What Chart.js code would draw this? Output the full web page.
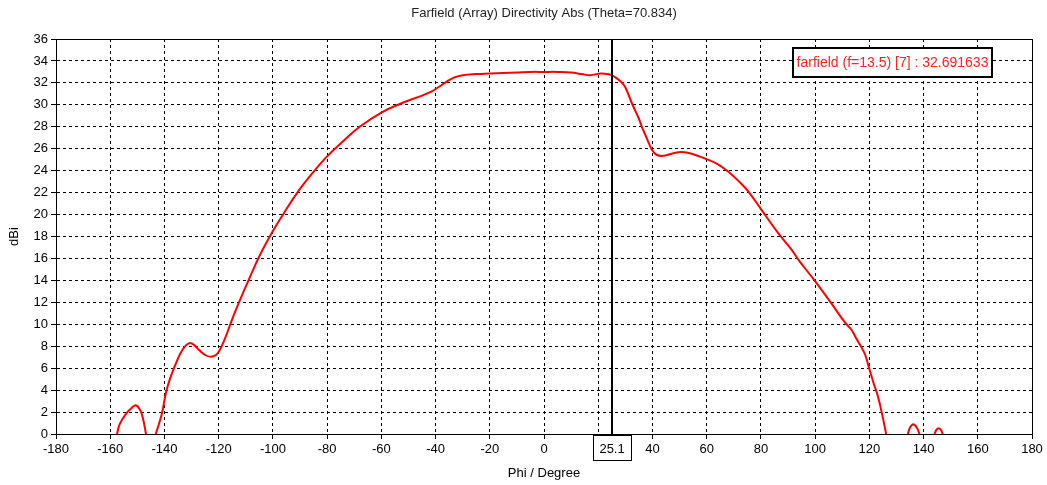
<!DOCTYPE html>
<html>
<head>
<meta charset="utf-8">
<script src="https://cdn.jsdelivr.net/npm/chart.js@4.4.1/dist/chart.umd.min.js"></script>
<style>
  html, body { margin: 0; padding: 0; background: #ffffff; }
  #wrap { width: 1047px; height: 485px; }
</style>
</head>
<body>
<div id="wrap"><canvas id="c" width="1047" height="485"></canvas></div>
<script>
// ---- data (null = gap where curve is below 0 dBi) ----
const phi = [
  -157.5, -156.5, -154, -152, -150.5, -149, -148, -146.8,
  null,
  -143.2, -141, -139.5, -138, -136, -134, -132, -130.5, -129, -127, -125, -123, -121, -119.5, -118, -116, -114, -112,
  -109, -105, -100, -96, -91, -85, -80, -74, -68, -60, -53, -46, -42, -39, -36, -33, -30, -25, -20, -15, -10, -5, 0,
  5, 10, 14, 17, 21, 25.1, 28.8, 30, 32.5, 34.9, 36.1, 38, 39.8, 41.5, 44, 47, 50.8, 55, 59.4, 64, 68, 72, 75.4,
  80.3, 86.4, 91.3, 93.8, 99.9, 106, 110.9, 113.4, 115.2, 117, 118.5, 120.1, 121.5, 123.2, 124.8, 126.2,
  null,
  134.2, 135, 136.2, 137.5, 138.5,
  null,
  144, 144.8, 145.5, 146.3, 147.1
];
const dbi = [
  0, 0.9, 1.9, 2.4, 2.62, 2.2, 1.5, 0,
  null,
  0, 1.8, 3.7, 5.0, 6.3, 7.4, 8.1, 8.3, 8.1, 7.6, 7.2, 7.05, 7.2, 7.7, 8.5, 9.8, 11.1, 12.3,
  14.0, 16.2, 18.5, 20.1, 22.0, 23.9, 25.3, 26.7, 28.0, 29.3, 30.1, 30.75, 31.15, 31.6, 32.1, 32.5, 32.7, 32.8, 32.85, 32.9, 32.95, 33.0, 33.0,
  33.0, 32.95, 32.8, 32.7, 32.85, 32.69, 32.0, 31.6, 30.1, 28.8, 28.0, 26.9, 25.9, 25.45, 25.35, 25.55, 25.7, 25.5, 25.1, 24.6, 23.9, 23.0, 22.1,
  20.4, 18.3, 16.8, 15.9, 13.95, 11.9, 10.2, 9.5, 8.7, 7.95, 7.2, 5.85, 4.7, 3.4, 1.7, 0,
  null,
  0, 0.6, 0.9, 0.6, 0,
  null,
  0, 0.4, 0.52, 0.4, 0
];
const xTickMin = -180, xTickMax = 180, xTickStep = 20;
const yTickMin = 0, yTickMax = 36, yTickStep = 2;
const markerPhi = 25.1;
const markerLabel = "25.1";
const hiddenXTick = 20;
const titleText = "Farfield (Array) Directivity Abs (Theta=70.834)";
const legendText = "farfield (f=13.5) [7] : 32.691633";
const xTitle = "Phi / Degree";
const yTitle = "dBi";

const points = phi.map((p, i) => (p === null ? { x: NaN, y: null } : { x: p, y: dbi[i] }));

const FONT = "'Liberation Sans', Arial, sans-serif";
const FS = 13;

const overlay = {
  id: 'overlay',
  afterDatasetsDraw(chart) {
    const { ctx, chartArea: a, scales } = chart;
    ctx.save();
    // frame
    ctx.strokeStyle = '#000';
    ctx.lineWidth = 1;
    ctx.strokeRect(Math.round(a.left) + 0.5, Math.round(a.top) + 0.5,
                   Math.round(a.right - a.left), Math.round(a.bottom - a.top));
    // marker line
    const mx = scales.x.getPixelForValue(markerPhi);
    ctx.lineWidth = 2;
    ctx.beginPath();
    ctx.moveTo(Math.round(mx), a.top);
    ctx.lineTo(Math.round(mx), a.bottom);
    ctx.stroke();
    // marker label box
    ctx.font = FS + 'px ' + FONT;
    ctx.textAlign = 'center';
    ctx.textBaseline = 'middle';
    const bw = 38, bh = 25;
    const bx = Math.round(mx - bw / 2) + 0.5, by = Math.round(a.bottom) + 1.5;
    ctx.fillStyle = '#fff';
    ctx.fillRect(bx, by, bw, bh);
    ctx.lineWidth = 1;
    ctx.strokeRect(bx, by, bw, bh);
    ctx.fillStyle = '#000';
    ctx.fillText(markerLabel, mx, by + bh / 2 + 1);
    // legend box
    ctx.font = '14px ' + FONT;
    const lx = 793, ly = 48, lh = 29, lbw = 199;
    ctx.fillStyle = '#fff';
    ctx.fillRect(lx, ly, lbw, lh);
    ctx.lineWidth = 2;
    ctx.strokeStyle = '#000';
    ctx.strokeRect(lx, ly, lbw, lh);
    ctx.fillStyle = '#ff2020';
    ctx.textAlign = 'center';
    ctx.fillText(legendText, lx + lbw / 2, ly + lh / 2 + 1);
    ctx.restore();
  }
};

new Chart(document.getElementById('c'), {
  type: 'line',
  data: {
    datasets: [{
      data: points,
      borderColor: '#ff0000',
      borderWidth: 2,
      pointRadius: 0,
      fill: false,
      spanGaps: false,
      tension: 0.4
    }]
  },
  options: {
    responsive: false,
    animation: false,
    layout: { padding: { top: 0, right: 15, bottom: 0, left: 0 } },
    plugins: {
      legend: { display: false },
      tooltip: { enabled: false },
      title: {
        display: true,
        text: titleText,
        fullSize: false,
        color: '#222',
        font: { family: FONT, size: FS, weight: 'normal' },
        padding: { top: 6, bottom: 17.4 }
      }
    },
    scales: {
      x: {
        type: 'linear',
        min: xTickMin, max: xTickMax,
        afterFit(s) { s.height = 51; },
        ticks: {
          stepSize: xTickStep,
          color: '#000',
          padding: 3,
          maxRotation: 0,
          autoSkip: false,
          font: { family: FONT, size: FS },
          callback: v => (v === hiddenXTick ? '' : String(v))
        },
        grid: {
          color: '#000',
          lineWidth: 1,
          tickLength: 5,
          tickBorderDash: []
        },
        border: { display: true, color: '#000', width: 1, dash: [3, 3] },
        title: {
          display: true, text: xTitle, color: '#000',
          font: { family: FONT, size: FS },
          padding: { top: 0, bottom: 4 }
        }
      },
      y: {
        type: 'linear',
        min: yTickMin, max: yTickMax,
        afterFit(s) { s.width = 56; },
        ticks: {
          stepSize: yTickStep,
          color: '#000',
          padding: 3,
          font: { family: FONT, size: FS }
        },
        grid: {
          color: '#000',
          lineWidth: 1,
          tickLength: 5,
          tickBorderDash: []
        },
        border: { display: true, color: '#000', width: 1, dash: [3, 3] },
        title: {
          display: true, text: yTitle, color: '#000',
          font: { family: FONT, size: FS },
          padding: { top: 7, bottom: 0 }
        }
      }
    }
  },
  plugins: [overlay]
});
</script>
</body>
</html>
